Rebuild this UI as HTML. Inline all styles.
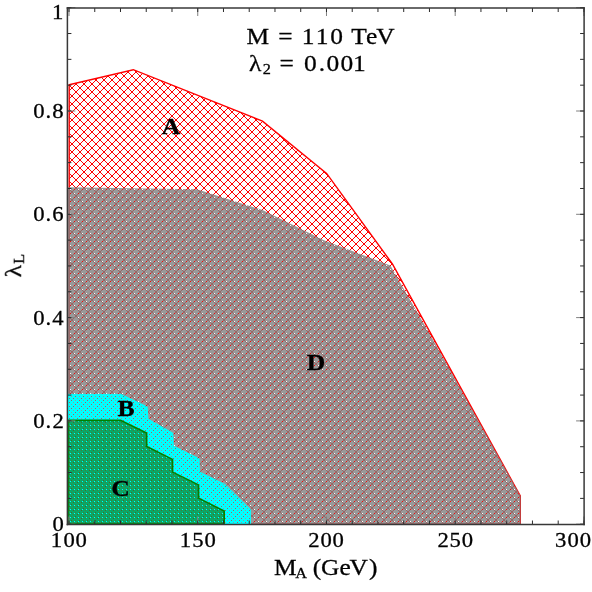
<!DOCTYPE html>
<html><head><meta charset="utf-8"><title>plot</title>
<style>
html,body{margin:0;padding:0;background:#fff;}
svg{display:block;font-family:"Liberation Serif",serif;}
</style></head><body>
<svg width="592" height="592" viewBox="0 0 592 592">
<defs>
<pattern id="pr" x="0" y="0" width="8" height="8" patternUnits="userSpaceOnUse"><g fill="#ff0000" shape-rendering="crispEdges"><rect x="0" y="0" width="1" height="1"/><rect x="7" y="0" width="1" height="1"/><rect x="1" y="1" width="1" height="1"/><rect x="6" y="1" width="1" height="1"/><rect x="2" y="2" width="1" height="1"/><rect x="5" y="2" width="1" height="1"/><rect x="3" y="3" width="1" height="1"/><rect x="4" y="3" width="1" height="1"/><rect x="3" y="4" width="1" height="1"/><rect x="4" y="4" width="1" height="1"/><rect x="2" y="5" width="1" height="1"/><rect x="5" y="5" width="1" height="1"/><rect x="1" y="6" width="1" height="1"/><rect x="6" y="6" width="1" height="1"/><rect x="0" y="7" width="1" height="1"/><rect x="7" y="7" width="1" height="1"/></g></pattern>
<pattern id="pg" x="0" y="0" width="4" height="4" patternUnits="userSpaceOnUse"><g fill="#7f7f7f" shape-rendering="crispEdges"><rect x="0" y="0" width="4" height="1"/><rect x="0" y="1" width="2" height="1"/><rect x="3" y="1" width="1" height="1"/><rect x="0" y="2" width="4" height="1"/><rect x="0" y="3" width="4" height="1"/></g></pattern>
<pattern id="pc" x="0" y="0" width="4" height="4" patternUnits="userSpaceOnUse"><g fill="#00ffff" shape-rendering="crispEdges"><rect x="0" y="0" width="3" height="1"/><rect x="0" y="1" width="4" height="1"/><rect x="0" y="2" width="1" height="1"/><rect x="2" y="2" width="2" height="1"/><rect x="0" y="3" width="4" height="1"/></g></pattern>
<pattern id="pn" x="0" y="0" width="4" height="4" patternUnits="userSpaceOnUse"><g fill="#106c00" shape-rendering="crispEdges"><rect x="0" y="0" width="4" height="1"/><rect x="0" y="1" width="2" height="1"/><rect x="3" y="1" width="1" height="1"/><rect x="0" y="2" width="4" height="1"/><rect x="0" y="3" width="4" height="1"/></g></pattern>
</defs>
<rect x="0" y="0" width="592" height="592" fill="#ffffff"/>
<polygon points="69.2,84.8 133.3,69.7 262.5,121.2 326.6,173.4 392.4,264.0 520.3,496.0 520.3,524.0 69.2,524.0" fill="url(#pr)"/>
<polygon points="69.2,84.8 133.3,69.7 262.5,121.2 326.6,173.4 392.4,264.0 520.3,496.0 520.3,524.0 69.2,524.0" fill="none" stroke="#ff0000" stroke-width="1.4"/>
<polygon points="68.0,187.2 197.0,189.3 262.5,210.0 324.5,240.4 390.4,265.5 439.5,351.0 520.6,496.0 520.6,524.0 68.0,524.0" fill="url(#pg)" fill-opacity="0.8"/>
<polygon points="68.0,394.4 121.1,394.4 147.1,406.8 147.9,419.0 172.8,433.2 173.3,446.0 199.0,458.7 199.4,472.0 225.0,484.5 250.4,509.5 250.4,524.0 68.0,524.0" fill="url(#pc)"/>
<polygon points="68.0,394.4 121.1,394.4 147.1,406.8 147.9,419.0 172.8,433.2 173.3,446.0 199.0,458.7 199.4,472.0 225.0,484.5 250.4,509.5 250.4,524.0 68.0,524.0" fill="none" stroke="#00ffff" stroke-width="1"/>
<polygon points="68.0,420.4 120.6,420.4 146.6,433.1 146.7,446.4 172.5,459.4 172.6,472.1 198.5,484.9 198.6,498.1 224.2,511.1 224.2,524.0 68.0,524.0" fill="url(#pn)" fill-opacity="0.6"/>
<polygon points="68.0,420.4 120.6,420.4 146.6,433.1 146.7,446.4 172.5,459.4 172.6,472.1 198.5,484.9 198.6,498.1 224.2,511.1 224.2,524.0 68.0,524.0" fill="none" stroke="#008000" stroke-width="1.6"/>
<g stroke="#808080" stroke-width="1" fill="none"><line x1="69.00" y1="524.50" x2="69.00" y2="516.50"/><line x1="69.00" y1="8.00" x2="69.00" y2="16.00"/><line x1="197.74" y1="524.50" x2="197.74" y2="516.50"/><line x1="197.74" y1="8.00" x2="197.74" y2="16.00"/><line x1="326.47" y1="524.50" x2="326.47" y2="516.50"/><line x1="326.47" y1="8.00" x2="326.47" y2="16.00"/><line x1="455.20" y1="524.50" x2="455.20" y2="516.50"/><line x1="455.20" y1="8.00" x2="455.20" y2="16.00"/><line x1="583.94" y1="524.50" x2="583.94" y2="516.50"/><line x1="583.94" y1="8.00" x2="583.94" y2="16.00"/><line x1="67.40" y1="524.20" x2="75.40" y2="524.20"/><line x1="584.10" y1="524.20" x2="576.10" y2="524.20"/><line x1="67.40" y1="420.90" x2="75.40" y2="420.90"/><line x1="584.10" y1="420.90" x2="576.10" y2="420.90"/><line x1="67.40" y1="317.60" x2="75.40" y2="317.60"/><line x1="584.10" y1="317.60" x2="576.10" y2="317.60"/><line x1="67.40" y1="214.30" x2="75.40" y2="214.30"/><line x1="584.10" y1="214.30" x2="576.10" y2="214.30"/><line x1="67.40" y1="111.00" x2="75.40" y2="111.00"/><line x1="584.10" y1="111.00" x2="576.10" y2="111.00"/><line x1="67.40" y1="7.70" x2="75.40" y2="7.70"/><line x1="584.10" y1="7.70" x2="576.10" y2="7.70"/></g>
<g stroke="#2a2a2a" stroke-width="1" fill="none"><line x1="69.00" y1="524.50" x2="69.00" y2="520.50"/><line x1="69.00" y1="8.00" x2="69.00" y2="12.00"/><line x1="94.75" y1="524.50" x2="94.75" y2="520.50"/><line x1="94.75" y1="8.00" x2="94.75" y2="12.00"/><line x1="120.49" y1="524.50" x2="120.49" y2="520.50"/><line x1="120.49" y1="8.00" x2="120.49" y2="12.00"/><line x1="146.24" y1="524.50" x2="146.24" y2="520.50"/><line x1="146.24" y1="8.00" x2="146.24" y2="12.00"/><line x1="171.99" y1="524.50" x2="171.99" y2="520.50"/><line x1="171.99" y1="8.00" x2="171.99" y2="12.00"/><line x1="197.74" y1="524.50" x2="197.74" y2="520.50"/><line x1="197.74" y1="8.00" x2="197.74" y2="12.00"/><line x1="223.48" y1="524.50" x2="223.48" y2="520.50"/><line x1="223.48" y1="8.00" x2="223.48" y2="12.00"/><line x1="249.23" y1="524.50" x2="249.23" y2="520.50"/><line x1="249.23" y1="8.00" x2="249.23" y2="12.00"/><line x1="274.98" y1="524.50" x2="274.98" y2="520.50"/><line x1="274.98" y1="8.00" x2="274.98" y2="12.00"/><line x1="300.72" y1="524.50" x2="300.72" y2="520.50"/><line x1="300.72" y1="8.00" x2="300.72" y2="12.00"/><line x1="326.47" y1="524.50" x2="326.47" y2="520.50"/><line x1="326.47" y1="8.00" x2="326.47" y2="12.00"/><line x1="352.22" y1="524.50" x2="352.22" y2="520.50"/><line x1="352.22" y1="8.00" x2="352.22" y2="12.00"/><line x1="377.96" y1="524.50" x2="377.96" y2="520.50"/><line x1="377.96" y1="8.00" x2="377.96" y2="12.00"/><line x1="403.71" y1="524.50" x2="403.71" y2="520.50"/><line x1="403.71" y1="8.00" x2="403.71" y2="12.00"/><line x1="429.46" y1="524.50" x2="429.46" y2="520.50"/><line x1="429.46" y1="8.00" x2="429.46" y2="12.00"/><line x1="455.20" y1="524.50" x2="455.20" y2="520.50"/><line x1="455.20" y1="8.00" x2="455.20" y2="12.00"/><line x1="480.95" y1="524.50" x2="480.95" y2="520.50"/><line x1="480.95" y1="8.00" x2="480.95" y2="12.00"/><line x1="506.70" y1="524.50" x2="506.70" y2="520.50"/><line x1="506.70" y1="8.00" x2="506.70" y2="12.00"/><line x1="532.45" y1="524.50" x2="532.45" y2="520.50"/><line x1="532.45" y1="8.00" x2="532.45" y2="12.00"/><line x1="558.19" y1="524.50" x2="558.19" y2="520.50"/><line x1="558.19" y1="8.00" x2="558.19" y2="12.00"/><line x1="583.94" y1="524.50" x2="583.94" y2="520.50"/><line x1="583.94" y1="8.00" x2="583.94" y2="12.00"/><line x1="67.40" y1="524.20" x2="71.40" y2="524.20"/><line x1="584.10" y1="524.20" x2="580.10" y2="524.20"/><line x1="67.40" y1="498.38" x2="71.40" y2="498.38"/><line x1="584.10" y1="498.38" x2="580.10" y2="498.38"/><line x1="67.40" y1="472.55" x2="71.40" y2="472.55"/><line x1="584.10" y1="472.55" x2="580.10" y2="472.55"/><line x1="67.40" y1="446.73" x2="71.40" y2="446.73"/><line x1="584.10" y1="446.73" x2="580.10" y2="446.73"/><line x1="67.40" y1="420.90" x2="71.40" y2="420.90"/><line x1="584.10" y1="420.90" x2="580.10" y2="420.90"/><line x1="67.40" y1="395.08" x2="71.40" y2="395.08"/><line x1="584.10" y1="395.08" x2="580.10" y2="395.08"/><line x1="67.40" y1="369.25" x2="71.40" y2="369.25"/><line x1="584.10" y1="369.25" x2="580.10" y2="369.25"/><line x1="67.40" y1="343.43" x2="71.40" y2="343.43"/><line x1="584.10" y1="343.43" x2="580.10" y2="343.43"/><line x1="67.40" y1="317.60" x2="71.40" y2="317.60"/><line x1="584.10" y1="317.60" x2="580.10" y2="317.60"/><line x1="67.40" y1="291.78" x2="71.40" y2="291.78"/><line x1="584.10" y1="291.78" x2="580.10" y2="291.78"/><line x1="67.40" y1="265.95" x2="71.40" y2="265.95"/><line x1="584.10" y1="265.95" x2="580.10" y2="265.95"/><line x1="67.40" y1="240.12" x2="71.40" y2="240.12"/><line x1="584.10" y1="240.12" x2="580.10" y2="240.12"/><line x1="67.40" y1="214.30" x2="71.40" y2="214.30"/><line x1="584.10" y1="214.30" x2="580.10" y2="214.30"/><line x1="67.40" y1="188.48" x2="71.40" y2="188.48"/><line x1="584.10" y1="188.48" x2="580.10" y2="188.48"/><line x1="67.40" y1="162.65" x2="71.40" y2="162.65"/><line x1="584.10" y1="162.65" x2="580.10" y2="162.65"/><line x1="67.40" y1="136.83" x2="71.40" y2="136.83"/><line x1="584.10" y1="136.83" x2="580.10" y2="136.83"/><line x1="67.40" y1="111.00" x2="71.40" y2="111.00"/><line x1="584.10" y1="111.00" x2="580.10" y2="111.00"/><line x1="67.40" y1="85.18" x2="71.40" y2="85.18"/><line x1="584.10" y1="85.18" x2="580.10" y2="85.18"/><line x1="67.40" y1="59.35" x2="71.40" y2="59.35"/><line x1="584.10" y1="59.35" x2="580.10" y2="59.35"/><line x1="67.40" y1="33.53" x2="71.40" y2="33.53"/><line x1="584.10" y1="33.53" x2="580.10" y2="33.53"/><line x1="67.40" y1="7.70" x2="71.40" y2="7.70"/><line x1="584.10" y1="7.70" x2="580.10" y2="7.70"/></g>
<g stroke="#383838" stroke-width="1.5" fill="none" stroke-linecap="square">
<line x1="67.40" y1="8.00" x2="584.10" y2="8.00"/>
<line x1="67.40" y1="524.50" x2="584.10" y2="524.50"/>
<line x1="67.40" y1="8.00" x2="67.40" y2="524.50"/>
<line x1="584.10" y1="8.00" x2="584.10" y2="524.50"/>
</g>
<g fill="#000" stroke="#000" stroke-width="0.3" opacity="0.999"><text transform="translate(0,117.90) scale(1.0800,1)" x="30.77 42.19 48.50" y="0" font-size="21.00">0.8</text>
<text transform="translate(0,221.20) scale(1.0800,1)" x="30.77 42.19 48.36" y="0" font-size="21.00">0.6</text>
<text transform="translate(0,324.50) scale(1.0800,1)" x="30.77 42.19 48.46" y="0" font-size="21.00">0.4</text>
<text transform="translate(0,427.80) scale(1.0800,1)" x="30.77 42.19 48.62" y="0" font-size="21.00">0.2</text>
<text transform="translate(0,530.70) scale(1.0800,1)" x="48.55" y="0" font-size="21.00">0</text>
<text transform="translate(0,19.00) scale(1.0800,1)" x="48.07" y="0" font-size="21.00">1</text>
<text transform="translate(0,546.80) scale(1.0800,1)" x="47.05 58.73 69.98" y="0" font-size="21.00">100</text>
<text transform="translate(0,546.80) scale(1.0800,1)" x="166.49 177.98 189.43" y="0" font-size="21.00">150</text>
<text transform="translate(0,546.80) scale(1.0800,1)" x="285.42 296.69 307.94" y="0" font-size="21.00">200</text>
<text transform="translate(0,546.80) scale(1.0800,1)" x="405.05 416.12 427.57" y="0" font-size="21.00">250</text>
<text transform="translate(0,546.80) scale(1.0800,1)" x="514.01 525.49 536.74" y="0" font-size="21.00">300</text>
<text transform="translate(0,43.80) scale(1.0600,1)" x="232.50 239.70 262.45 269.65 284.70 298.00 311.59 318.79 331.35 345.29 354.93" y="0" font-size="24.00">M = 110 TeV</text>
<text transform="translate(0,70.80) scale(1.0600,1)" x="234.89 247.85 255.05 263.77 270.97 286.78 300.80 308.00 321.21 333.09" y="0" font-size="24.00">&#955;<tspan font-size="15.36" dy="3.00">2</tspan><tspan dy="-3.00"> = 0.001</tspan></text>
<text transform="translate(0,574.60) scale(1.0600,1)" x="258.45 278.59 285.79 295.14 302.73 320.29 329.65 348.07" y="0" font-size="24.00">M<tspan font-size="15.36" dy="3.00">A</tspan><tspan dy="-3.00"> (GeV)</tspan></text>
<text transform="translate(20.90,277.00) rotate(-90) scale(1.0600,1)" x="-0.22 12.53" y="0" font-size="24.00">&#955;<tspan font-size="15.36" dy="3.00">L</tspan></text>
<text transform="translate(0,133.80) scale(1.0700,1)" x="151.12" y="0" font-size="24.00" font-weight="bold">A</text>
<text transform="translate(0,415.80) scale(1.0700,1)" x="109.79" y="0" font-size="24.00" font-weight="bold">B</text>
<text transform="translate(0,496.40) scale(1.0700,1)" x="103.91" y="0" font-size="24.00" font-weight="bold">C</text>
<text transform="translate(0,369.90) scale(1.0700,1)" x="286.57" y="0" font-size="24.00" font-weight="bold">D</text>
</g>
</svg>
</body></html>
